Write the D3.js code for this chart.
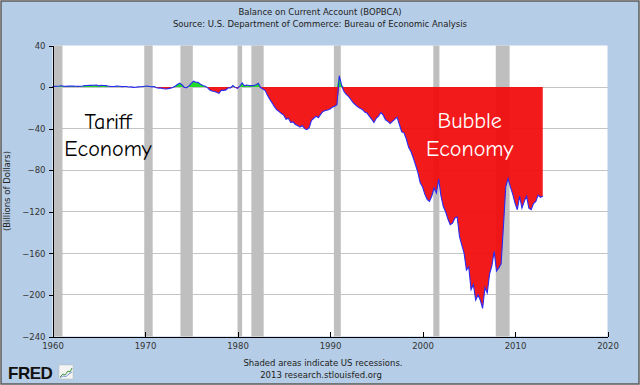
<!DOCTYPE html>
<html lang="en">
<head>
<meta charset="UTF-8">
<title>Balance on Current Account</title>
<style>
    body { margin: 0; background: #fff; }
    svg text { font-family: "DejaVu Sans", Verdana, sans-serif; fill: #222; }
    .axis path, .axis line { stroke: #000; shape-rendering: crispEdges; }
    .axis text { font-size: 8.5px; fill: #333; }
    .grid line { stroke: #c4c4c4; shape-rendering: crispEdges; }
    svg text.note { font-family: "Comic Sans MS", "Comic Neue", "DejaVu Sans", sans-serif; font-size: 22px; fill: #000; }
</style>
</head>
<body>
<script src="https://cdn.jsdelivr.net/npm/d3@7"></script>
<script>
    // quarterly balance, billions of dollars, one array per decade (first quarter 1960Q1)
    var bal1960s = [
        0.5, 0.7, 0.8, 1.0,   1.3, 0.8, 0.7, 1.0,   0.9, 1.0, 0.8, 0.7,   0.8, 1.0, 1.4, 1.5,
        1.8, 1.6, 1.7, 2.0,   1.2, 1.6, 1.5, 1.4,   1.0, 0.7, 0.6, 0.7,   0.9, 0.8, 0.4, 0.5,
        0.6, 0.1, 0.2, -0.3,  -0.1, 0.2, 0.3, 0.6
    ];
    var bal1970s = [
        0.8, 0.9, 0.6, 0.2,   0.5, -0.6, -1.0, -1.0,   -1.6, -1.8, -1.5, -1.0,   -0.4, 0.8, 2.5, 3.8,
        2.2, -0.3, -0.5, 1.2,   3.5, 5.6, 4.7, 4.5,   2.6, 1.6, 0.8, -0.5,   -2.8, -3.7, -4.2, -5.0,
        -6.1, -3.1, -3.2, -2.7,   -0.7, -0.8, 1.5, -0.3
    ];
    var bal1980s = [
        -1.3, 0.8, 3.9, 1.2,   2.0, 1.5, 1.4, 1.4,   2.2, 3.6, -0.5, -1.8,   -3.3, -8.0, -12.0, -15.4,
        -19.0, -22.0, -23.5, -25.5,   -27.0, -31.0, -30.0, -34.0,   -33.5, -36.0, -37.0, -38.5,
        -37.0, -40.0, -41.0, -39.0,   -32.0, -30.0, -28.0, -29.5,   -26.0, -23.5, -22.5, -22.0
    ];
    var bal1990s = [
        -21.0, -19.5, -18.5, -17.0,   10.9, 2.0, -4.0, -7.0,   -9.0, -12.0, -15.0, -17.0,
        -19.0, -20.5, -21.5, -24.0,   -25.0, -28.0, -31.0, -34.0,   -30.0, -28.0, -24.5, -27.0,
        -31.5, -33.0, -35.0, -33.0,   -31.0, -29.0, -36.0, -43.0,   -44.0, -50.0, -58.0, -62.0,
        -68.0, -75.0, -82.0, -92.0
    ];
    var bal2000s = [
        -96, -103, -108, -110,   -105, -97, -102, -88.5,   -105, -115, -120, -127,
        -132.5, -131, -126, -125,   -143.8, -152, -160, -176,   -173, -195, -190, -205,
        -200, -205, -213, -193,   -198, -180, -172, -158,   -177, -174, -170, -134,
        -96, -88, -96, -103
    ];
    var bal2010s = [
        -111.6, -118, -105, -116.5,   -110, -105, -116.5, -118,   -112, -110, -104, -106,
        -105
    ];

    // NBER recessions, decimal years
    var recessions = [
        [1960.17, 1961.08], [1969.92, 1970.83], [1973.83, 1975.17], [1980.0, 1980.5],
        [1981.5, 1982.83], [1990.42, 1991.17], [2001.17, 2001.83], [2007.92, 2009.42]
    ];

    var xTicks = [1960, 1970, 1980, 1990, 2000, 2010, 2020];
    var yTicks = [40, 0, -40, -80, -120, -160, -200, -240];

    var balance = [].concat(bal1960s, bal1970s, bal1980s, bal1990s, bal2000s, bal2010s);
    var data = balance.map(function(v, i) { return { t: 1960 + i / 4, v: v }; });

    var W = 640, H = 385;
    var margin = {top: 45.5, right: 32.5, bottom: 48.5, left: 52.5},
        width = W - margin.left - margin.right,
        height = H - margin.top - margin.bottom;

    var svg = d3.select("body").append("svg")
        .attr("width", W)
        .attr("height", H);

    svg.append("rect")
        .attr("x", 1).attr("y", 1)
        .attr("width", W - 2).attr("height", H - 2)
        .attr("fill", "#b5cde6")
        .attr("stroke", "#5a5a5a")
        .attr("stroke-width", 1.5);

    svg.append("text")
        .attr("x", 320).attr("y", 14.5)
        .attr("text-anchor", "middle")
        .style("font-size", "8.5px")
        .text("Balance on Current Account (BOPBCA)");
    svg.append("text")
        .attr("x", 320).attr("y", 26.5)
        .attr("text-anchor", "middle")
        .style("font-size", "8.5px")
        .text("Source: U.S. Department of Commerce: Bureau of Economic Analysis");

    var x = d3.scaleLinear().domain([1960, 2020]).range([0, width]);
    var y = d3.scaleLinear().domain([-240, 40]).range([height, 0]);

    var g = svg.append("g")
        .attr("transform", "translate(" + margin.left + "," + margin.top + ")");

    g.append("rect")
        .attr("width", width).attr("height", height)
        .attr("fill", "#fff");

    g.append("g")
        .attr("class", "grid")
        .selectAll("line")
        .data(yTicks.slice(1, -1))
        .enter().append("line")
        .attr("x1", 0).attr("x2", width)
        .attr("y1", function(d) { return y(d); })
        .attr("y2", function(d) { return y(d); });

    g.selectAll(".rec")
        .data(recessions)
        .enter().append("rect")
        .attr("class", "rec")
        .attr("x", function(d) { return x(d[0]); })
        .attr("width", function(d) { return x(d[1]) - x(d[0]); })
        .attr("y", 0).attr("height", height)
        .attr("fill", "#bfbfbf");

    var neg = d3.area()
        .x(function(d) { return x(d.t); })
        .y0(y(0))
        .y1(function(d) { return y(Math.min(d.v, 0)); });
    var pos = d3.area()
        .x(function(d) { return x(d.t); })
        .y0(y(0))
        .y1(function(d) { return y(Math.max(d.v, 0)); });

    g.append("path").datum(data)
        .attr("d", neg)
        .attr("fill", "#f20c0e")
        .attr("fill-opacity", 0.94);
    g.append("path").datum(data)
        .attr("d", pos)
        .attr("fill", "#1fdc2a");

    g.append("path").datum(data)
        .attr("d", d3.line()
            .x(function(d) { return x(d.t); })
            .y(function(d) { return y(d.v); }))
        .attr("fill", "none")
        .attr("stroke", "#2a2af5")
        .attr("stroke-width", 1.1);

    g.append("g")
        .attr("class", "axis")
        .call(d3.axisLeft(y).tickValues(yTicks).tickSize(4).tickPadding(3));

    g.append("g")
        .attr("class", "axis")
        .attr("transform", "translate(0," + height + ")")
        .call(d3.axisBottom(x).tickValues(xTicks).tickFormat(d3.format("d"))
            .tickSizeInner(-5).tickSizeOuter(0).tickPadding(6));

    svg.append("text")
        .attr("transform", "translate(10," + 191 + ") rotate(-90)")
        .attr("text-anchor", "middle")
        .style("font-size", "8.5px")
        .text("(Billions of Dollars)");

    // annotations
    g.append("text").attr("class", "note")
        .attr("x", x(1966)).attr("y", y(-40))
        .attr("text-anchor", "middle")
        .text("Tariff");
    g.append("text").attr("class", "note")
        .attr("x", x(1966)).attr("y", y(-66))
        .attr("text-anchor", "middle")
        .text("Economy");
    g.append("text").attr("class", "note")
        .attr("x", x(2005.1)).attr("y", y(-39))
        .attr("text-anchor", "middle")
        .style("fill", "#fff")
        .text("Bubble");
    g.append("text").attr("class", "note")
        .attr("x", x(2005.1)).attr("y", y(-66))
        .attr("text-anchor", "middle")
        .style("fill", "#fff")
        .text("Economy");

    svg.append("text")
        .attr("x", 323).attr("y", 366)
        .attr("text-anchor", "middle")
        .style("font-size", "8.5px")
        .text("Shaded areas indicate US recessions.");
    svg.append("text")
        .attr("x", 321).attr("y", 377.5)
        .attr("text-anchor", "middle")
        .style("font-size", "8.5px")
        .text("2013 research.stlouisfed.org");

    // FRED mark
    svg.append("text")
        .attr("x", 8).attr("y", 379)
        .style("font-family", "'Liberation Sans', Arial, sans-serif")
        .style("font-size", "17px")
        .style("font-weight", "bold")
        .style("fill", "#111")
        .style("letter-spacing", "-0.5px")
        .text("FRED");
    var icon = svg.append("g").attr("transform", "translate(59,365)");
    icon.append("rect").attr("width", 14).attr("height", 14)
        .attr("fill", "#f4f4f4").attr("stroke", "#bbb").attr("stroke-width", 0.5);
    icon.append("path").attr("d", "M1,12 L4,9 L6,10 L9,6 L11,7 L13,3")
        .attr("fill", "none").attr("stroke", "#3a9a3a").attr("stroke-width", 1);
    icon.append("path").attr("d", "M1,13 L4,11 L7,11.5 L10,9 L13,7")
        .attr("fill", "none").attr("stroke", "#5a7ad0").attr("stroke-width", 0.8);
</script>
</body>
</html>
